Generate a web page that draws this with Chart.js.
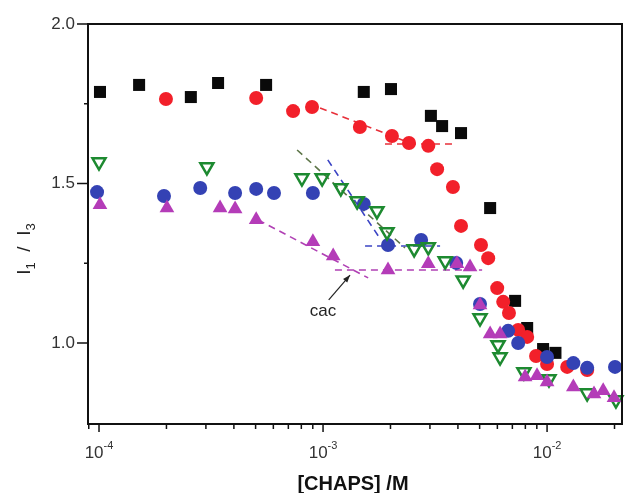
<!DOCTYPE html>
<html>
<head>
<meta charset="utf-8">
<script src="https://cdn.jsdelivr.net/npm/chart.js@4.4.1/dist/chart.umd.min.js"></script>
<style>
  html, body { margin: 0; padding: 0; background: #fff; }
  #chart { display: block; }
</style>
</head>
<body>
<canvas id="chart" width="625" height="493"></canvas>
<script>
// [CHAPS] (M) vs I1/I3
const blackX = [1.01e-4, 1.51e-4, 2.57e-4, 3.40e-4, 5.57e-4, 1.52e-3, 2.01e-3, 3.03e-3, 3.40e-3, 4.13e-3, 5.57e-3, 7.20e-3, 8.15e-3, 9.60e-3, 1.09e-2];
const blackY = [1.787, 1.809, 1.771, 1.815, 1.809, 1.787, 1.796, 1.712, 1.680, 1.658, 1.423, 1.132, 1.047, 0.981, 0.969];

const redX = [1.99e-4, 5.03e-4, 7.35e-4, 8.93e-4, 1.46e-3, 2.03e-3, 2.42e-3, 2.95e-3, 3.23e-3, 3.80e-3, 4.13e-3, 5.07e-3, 5.46e-3, 5.99e-3, 6.37e-3, 6.76e-3, 7.43e-3, 8.15e-3, 8.93e-3, 1.0e-2, 1.23e-2, 1.51e-2];
const redY = [1.765, 1.768, 1.727, 1.740, 1.677, 1.649, 1.627, 1.618, 1.545, 1.489, 1.367, 1.307, 1.266, 1.172, 1.129, 1.094, 1.041, 1.019, 0.959, 0.934, 0.925, 0.915];

const blueX = [9.8e-5, 1.95e-4, 2.83e-4, 4.05e-4, 5.03e-4, 6.04e-4, 9.01e-4, 1.52e-3, 1.95e-3, 2.74e-3, 3.93e-3, 5.02e-3, 6.70e-3, 7.43e-3, 1.0e-2, 1.31e-2, 1.51e-2, 2.01e-2];
const blueY = [1.473, 1.461, 1.486, 1.470, 1.483, 1.470, 1.470, 1.436, 1.307, 1.323, 1.251, 1.122, 1.038, 1.000, 0.956, 0.937, 0.922, 0.925];

const greenX = [1.0e-4, 3.03e-4, 8.05e-4, 9.91e-4, 1.20e-3, 1.42e-3, 1.74e-3, 1.93e-3, 2.55e-3, 2.95e-3, 3.51e-3, 4.22e-3, 5.02e-3, 6.04e-3, 6.17e-3, 7.88e-3, 1.02e-2, 1.51e-2, 2.03e-2];
const greenY = [1.567, 1.552, 1.517, 1.517, 1.486, 1.445, 1.414, 1.348, 1.295, 1.301, 1.257, 1.197, 1.078, 0.994, 0.956, 0.909, 0.887, 0.843, 0.821];

const purpleX = [1.01e-4, 2.01e-4, 3.47e-4, 4.05e-4, 5.03e-4, 9.01e-4, 1.11e-3, 1.95e-3, 2.95e-3, 3.96e-3, 4.53e-3, 5.02e-3, 5.57e-3, 6.17e-3, 7.98e-3, 9.02e-3, 1.0e-2, 1.31e-2, 1.62e-2, 1.78e-2, 1.99e-2];
const purpleY = [1.433, 1.423, 1.423, 1.420, 1.386, 1.317, 1.273, 1.229, 1.248, 1.248, 1.238, 1.119, 1.028, 1.028, 0.893, 0.897, 0.878, 0.862, 0.840, 0.850, 0.828];

// dashed guide lines (two end points each)
const redFitAX = [9.7e-4, 2.32e-3], redFitAY = [1.737, 1.633];
const redFitBX = [1.89e-3, 3.77e-3], redFitBY = [1.624, 1.624];
const greenFitX = [7.66e-4, 2.32e-3], greenFitY = [1.605, 1.298];
const blueFitAX = [1.05e-3, 1.79e-3], blueFitAY = [1.574, 1.329];
const blueFitBX = [1.54e-3, 3.33e-3], blueFitBY = [1.304, 1.304];
const purpleFitAX = [5.13e-4, 1.59e-3], purpleFitAY = [1.386, 1.204];
const purpleFitBX = [1.13e-3, 5.13e-3], purpleFitBY = [1.229, 1.229];

// cac label and arrow (data coords)
const cacText = [1.0e-3, 1.100];
const cacArrow = [[1.06e-3, 1.135], [1.32e-3, 1.213]];

const xTicks = [1e-4, 1e-3, 1e-2];
const xTickExp = ['-4', '-3', '-2'];
const yTicks = [1.0, 1.5, 2.0];
const yTickLabels = ['1.0', '1.5', '2.0'];
const yMinorTicks = [1.25, 1.75];

const pts = (xs, ys) => xs.map((x, i) => ({ x: x, y: ys[i] }));

const dashLine = (xs, ys, color, order) => ({
    type: 'line',
    data: pts(xs, ys),
    borderColor: color,
    borderWidth: 1.6,
    borderDash: [7, 5],
    pointRadius: 0,
    fill: false,
    order: order
});

const axisPlugin = {
    id: 'axisDeco',
    afterDraw(chart) {
        const ctx = chart.ctx;
        const a = chart.chartArea;
        const xs = chart.scales.x, ys = chart.scales.y;
        ctx.save();

        // frame
        ctx.strokeStyle = '#111';
        ctx.lineWidth = 2;
        ctx.strokeRect(a.left, a.top, a.right - a.left, a.bottom - a.top);

        // y ticks
        ctx.lineWidth = 1.5;
        ctx.beginPath();
        yTicks.forEach(v => {
            const p = ys.getPixelForValue(v);
            ctx.moveTo(a.left - 11, p); ctx.lineTo(a.left, p);
        });
        yMinorTicks.forEach(v => {
            const p = ys.getPixelForValue(v);
            ctx.moveTo(a.left - 4, p); ctx.lineTo(a.left, p);
        });
        // x ticks
        for (let e = -5; e <= -1; e++) {
            for (let m = 1; m <= 9; m++) {
                const v = m * Math.pow(10, e);
                if (v < xs.min || v > xs.max) continue;
                const p = xs.getPixelForValue(v);
                ctx.moveTo(p, a.bottom); ctx.lineTo(p, a.bottom + (m === 1 ? 8 : 5));
            }
        }
        ctx.stroke();

        // y tick labels
        ctx.fillStyle = '#333';
        ctx.font = '17px Arial, "Liberation Sans", sans-serif';
        ctx.textAlign = 'right';
        ctx.textBaseline = 'middle';
        yTicks.forEach((v, i) => ctx.fillText(yTickLabels[i], a.left - 13, ys.getPixelForValue(v)));

        // x tick labels 10^n
        ctx.textAlign = 'left';
        ctx.textBaseline = 'alphabetic';
        xTicks.forEach((v, i) => {
            const p = xs.getPixelForValue(v);
            ctx.font = '17px Arial, "Liberation Sans", sans-serif';
            const w1 = ctx.measureText('10').width;
            ctx.font = '11px Arial, "Liberation Sans", sans-serif';
            const w2 = ctx.measureText(xTickExp[i]).width;
            const x0 = p - (w1 + w2) / 2;
            ctx.font = '17px Arial, "Liberation Sans", sans-serif';
            ctx.fillText('10', x0, 458);
            ctx.font = '11px Arial, "Liberation Sans", sans-serif';
            ctx.fillText(xTickExp[i], x0 + w1, 449);
        });

        // x title
        ctx.fillStyle = '#111';
        ctx.font = 'bold 20px Arial, "Liberation Sans", sans-serif';
        ctx.textAlign = 'center';
        ctx.fillText('[CHAPS] /M', 353, 490);

        // y title I1 / I3, rotated
        ctx.save();
        ctx.translate(30, 249);
        ctx.rotate(-Math.PI / 2);
        ctx.fillStyle = '#222';
        const parts = [['I', 19, 0], ['1', 13, 5], ['  /  ', 19, 0], ['I', 19, 0], ['3', 13, 5]];
        let total = 0;
        parts.forEach(pr => { ctx.font = pr[1] + 'px Arial, "Liberation Sans", sans-serif'; total += ctx.measureText(pr[0]).width; });
        let cx = -total / 2;
        ctx.textAlign = 'left';
        parts.forEach(pr => {
            ctx.font = pr[1] + 'px Arial, "Liberation Sans", sans-serif';
            ctx.fillText(pr[0], cx, pr[2]);
            cx += ctx.measureText(pr[0]).width;
        });
        ctx.restore();

        // cac annotation
        ctx.fillStyle = '#222';
        ctx.font = '17px Arial, "Liberation Sans", sans-serif';
        ctx.textAlign = 'center';
        ctx.textBaseline = 'middle';
        ctx.fillText('cac', xs.getPixelForValue(cacText[0]), ys.getPixelForValue(cacText[1]));
        const ax0 = xs.getPixelForValue(cacArrow[0][0]), ay0 = ys.getPixelForValue(cacArrow[0][1]);
        const ax1 = xs.getPixelForValue(cacArrow[1][0]), ay1 = ys.getPixelForValue(cacArrow[1][1]);
        ctx.strokeStyle = '#222';
        ctx.lineWidth = 1.2;
        ctx.beginPath(); ctx.moveTo(ax0, ay0); ctx.lineTo(ax1, ay1); ctx.stroke();
        const ang = Math.atan2(ay1 - ay0, ax1 - ax0);
        ctx.beginPath();
        ctx.moveTo(ax1, ay1);
        ctx.lineTo(ax1 - 8 * Math.cos(ang - 0.35), ay1 - 8 * Math.sin(ang - 0.35));
        ctx.lineTo(ax1 - 8 * Math.cos(ang + 0.35), ay1 - 8 * Math.sin(ang + 0.35));
        ctx.closePath(); ctx.fill();

        ctx.restore();
    }
};

new Chart(document.getElementById('chart').getContext('2d'), {
    type: 'scatter',
    data: {
        datasets: [
            dashLine(redFitAX, redFitAY, '#e8303a', 10),
            dashLine(redFitBX, redFitBY, '#e8303a', 10),
            dashLine(greenFitX, greenFitY, '#5d7548', 10),
            dashLine(blueFitAX, blueFitAY, '#3b44c4', 10),
            dashLine(blueFitBX, blueFitBY, '#3b44c4', 10),
            dashLine(purpleFitAX, purpleFitAY, '#b040b4', 10),
            dashLine(purpleFitBX, purpleFitBY, '#b040b4', 10),
            { data: pts(blackX, blackY), pointStyle: 'rect', pointRadius: 8.5, backgroundColor: '#0a0a0a', borderWidth: 0, order: 5 },
            { data: pts(redX, redY), pointStyle: 'circle', pointRadius: 7, backgroundColor: '#f2202a', borderWidth: 0, order: 4 },
            { data: pts(blueX, blueY), pointStyle: 'circle', pointRadius: 7, backgroundColor: '#3442b4', borderWidth: 0, order: 3 },
            { data: pts(greenX, greenY), pointStyle: 'triangle', rotation: 180, pointRadius: 7.5, backgroundColor: 'rgba(255,255,255,0)', borderColor: '#1d8a30', borderWidth: 2.5, order: 2 },
            { data: pts(purpleX, purpleY), pointStyle: 'triangle', pointRadius: 8.5, backgroundColor: '#b43cb8', borderWidth: 0, order: 1 }
        ].map(d => Object.assign({ clip: false }, d))
    },
    options: {
        responsive: false,
        animation: false,
        layout: { autoPadding: false, padding: { top: 24, right: 3, left: 0, bottom: 0 } },
        plugins: { legend: { display: false }, tooltip: { enabled: false } },
        scales: {
            x: {
                type: 'logarithmic',
                min: 8.93e-5,
                max: 0.0216,
                grid: { display: false },
                border: { display: false },
                ticks: { display: false },
                afterFit: s => { s.height = 69; }
            },
            y: {
                type: 'linear',
                min: 0.746,
                max: 2.0,
                grid: { display: false },
                border: { display: false },
                ticks: { display: false },
                afterFit: s => { s.width = 88; }
            }
        }
    },
    plugins: [axisPlugin]
});
</script>
</body>
</html>
